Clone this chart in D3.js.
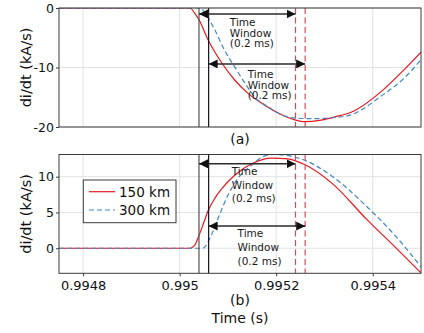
<!DOCTYPE html>
<html>
<head>
<meta charset="utf-8">
<script src="https://cdn.jsdelivr.net/npm/d3@7"></script>
<style>
  body { margin: 0; background: #fff; }
  svg { display: block; font-family: "DejaVu Sans", Verdana, sans-serif; }
</style>
</head>
<body>
<div id="chart"></div>
<script>
// --- data ---
const seriesNames = ["150 km", "300 km"]
const xTicks = [0.9948, 0.995, 0.9952, 0.9954]
const xTickLabels = ["0.9948", "0.995", "0.9952", "0.9954"]
const topYTicks = [-20, -10, 0]
const bottomYTicks = [0, 5, 10]

// time window start for each line length, window is 0.2 ms
const windowStarts = [0.99504, 0.99506]
const windowLength = 0.0002

// (a) di/dt, kA/s
const topTime150 = [0.99475, 0.995, 0.995021, 0.995031, 0.995041, 0.995058, 0.995087, 0.995114, 0.995141, 0.99517, 0.995203, 0.995239, 0.995259, 0.99529, 0.995322, 0.995361, 0.995421, 0.995461, 0.9955]
const topValue150 = [0, 0, 0, -0.85, -2.1, -5.2, -9.2, -12.1, -14.3, -16.0, -17.6, -18.8, -19.1, -18.9, -18.3, -17.3, -13.8, -10.7, -7.4]
const topTime300 = [0.99475, 0.995, 0.995044, 0.995052, 0.995073, 0.995093, 0.995114, 0.995135, 0.995156, 0.995183, 0.995212, 0.995239, 0.99528, 0.995322, 0.995353, 0.995421, 0.995461, 0.9955]
const topValue300 = [0, 0, 0, -0.8, -3.7, -7.1, -9.9, -12.6, -15.0, -16.6, -18.0, -18.5, -18.6, -18.4, -18.0, -14.6, -12.1, -8.7]

// (b) di/dt, kA/s
const bottomTime150 = [0.99475, 0.995, 0.995021, 0.995031, 0.995039, 0.99505, 0.995058, 0.995073, 0.995087, 0.995114, 0.995149, 0.995191, 0.995224, 0.995259, 0.995317, 0.995388, 0.995446, 0.9955]
const bottomValue150 = [0, 0, 0, 0.4, 1.6, 3.6, 5.1, 7.0, 8.3, 10.2, 11.8, 12.6, 12.5, 11.7, 9.0, 4.0, 0.2, -3.45]
const bottomTime300 = [0.99475, 0.995, 0.995048, 0.995062, 0.995079, 0.9951, 0.99512, 0.995149, 0.995176, 0.995197, 0.995228, 0.995259, 0.995317, 0.995388, 0.995446, 0.9955]
const bottomValue300 = [0, 0, 0, 1.3, 4.1, 7.4, 9.7, 11.6, 12.9, 13.1, 12.9, 12.3, 10.0, 5.8, 1.8, -2.6]

// arrow levels and label anchors (data units), one per window
const topArrowLevels = [-1.0, -9.4]
const bottomArrowLevels = [11.8, 3.1]
const topLabelAnchors = [[0.995104, -3.1], [0.995141, -11.8]]
const bottomLabelAnchors = [[0.995108, 10.3], [0.99512, 1.6]]
const windowLabel = ["Time", "Window", "(0.2 ms)"]

const width = 424
const height = 333
const red = "#e8191f"
const blue = "#3f86c8"
const colors = [red, blue]

const svg = d3.select("#chart").append("svg")
  .attr("width", width)
  .attr("height", height)

const defs = svg.append("defs")
defs.append("marker")
    .attr("id", "head")
    .attr("viewBox", "0 -5 10 10")
    .attr("refX", 10)
    .attr("refY", 0)
    .attr("markerUnits", "userSpaceOnUse")
    .attr("markerWidth", 9)
    .attr("markerHeight", 9)
    .attr("orient", "auto-start-reverse")
  .append("path")
    .attr("d", "M0,-5L10,0L0,5Z")
    .attr("fill", "#111")

const x = d3.scaleLinear().domain([0.99475, 0.9955]).range([59, 421])

const panels = [
  {
    id: "a", top: 8, bottom: 127, domain: [-20, 0], ticks: topYTicks,
    series: [[topTime150, topValue150], [topTime300, topValue300]],
    arrows: topArrowLevels, labels: topLabelAnchors, lineGap: "1.0em",
    caption: "(a)", captionY: 144
  },
  {
    id: "b", top: 154.5, bottom: 273.3, domain: [-3.5, 13.1], ticks: bottomYTicks,
    series: [[bottomTime150, bottomValue150], [bottomTime300, bottomValue300]],
    arrows: bottomArrowLevels, labels: bottomLabelAnchors, lineGap: "1.33em",
    caption: "(b)", captionY: 305
  }
]

panels.forEach(p => {
  const y = d3.scaleLinear().domain(p.domain).range([p.bottom, p.top])
  const g = svg.append("g")

  defs.append("clipPath").attr("id", "clip-" + p.id)
    .append("rect")
      .attr("x", x.range()[0]).attr("y", p.top)
      .attr("width", x.range()[1] - x.range()[0])
      .attr("height", p.bottom - p.top)

  // grid
  g.append("g").selectAll("line").data(xTicks).join("line")
      .attr("x1", d => x(d)).attr("x2", d => x(d))
      .attr("y1", p.top).attr("y2", p.bottom)
      .attr("stroke", "#e2e2e2")
  g.append("g").selectAll("line").data(p.ticks).join("line")
      .attr("x1", x.range()[0]).attr("x2", x.range()[1])
      .attr("y1", d => y(d)).attr("y2", d => y(d))
      .attr("stroke", "#e2e2e2")

  const plot = g.append("g").attr("clip-path", `url(#clip-${p.id})`)

  const line = d3.line()
      .x(d => x(d[0]))
      .y(d => y(d[1]))
      .curve(d3.curveMonotoneX)

  p.series.forEach((s, i) => {
    const pts = d3.zip(s[0], s[1])
    plot.append("path")
        .datum(pts)
        .attr("fill", "none")
        .attr("stroke", colors[i])
        .attr("stroke-width", 1.2)
        .attr("stroke-dasharray", i === 1 ? "5,3" : null)
        .attr("d", line)
  })

  // window start lines
  plot.selectAll("line.start").data(windowStarts).join("line")
      .attr("class", "start")
      .attr("x1", d => x(d)).attr("x2", d => x(d))
      .attr("y1", p.top).attr("y2", p.bottom)
      .attr("stroke", (d, i) => i === 0 ? "#505050" : "#15151f")
      .attr("stroke-width", 1.2)

  // window end lines
  plot.selectAll("line.end").data(windowStarts).join("line")
      .attr("class", "end")
      .attr("x1", d => x(d + windowLength)).attr("x2", d => x(d + windowLength))
      .attr("y1", p.top).attr("y2", p.bottom)
      .attr("stroke", "#c8505c")
      .attr("stroke-width", 1.2)
      .attr("stroke-dasharray", "6,3.5")

  // arrows
  g.selectAll("line.arrow").data(windowStarts).join("line")
      .attr("class", "arrow")
      .attr("x1", d => x(d)).attr("x2", d => x(d + windowLength))
      .attr("y1", (d, i) => y(p.arrows[i])).attr("y2", (d, i) => y(p.arrows[i]))
      .attr("stroke", "#2a2a2a")
      .attr("stroke-width", 1.4)
      .attr("marker-start", "url(#head)")
      .attr("marker-end", "url(#head)")

  // window labels
  g.selectAll("text.win").data(p.labels).join("text")
      .attr("class", "win")
      .attr("x", d => x(d[0]))
      .attr("y", d => y(d[1]))
      .attr("font-size", 10.5)
      .attr("fill", "#1a1a1a")
      .each(function(d) {
        const t = d3.select(this)
        windowLabel.forEach((w, k) => {
          t.append("tspan")
            .attr("x", x(d[0]))
            .attr("dy", k === 0 ? 0 : p.lineGap)
            .text(w)
        })
      })

  // frame
  g.append("rect")
      .attr("x", x.range()[0]).attr("y", p.top)
      .attr("width", x.range()[1] - x.range()[0])
      .attr("height", p.bottom - p.top)
      .attr("fill", "none")
      .attr("stroke", "#3a3a3a")

  // y axis
  const yAxis = g.append("g")
      .attr("transform", `translate(${x.range()[0]},0)`)
      .call(d3.axisLeft(y).tickValues(p.ticks).tickSize(3).tickPadding(2).tickFormat(d3.format("d")))
  yAxis.select(".domain").remove()
  yAxis.selectAll("line").attr("stroke", "#3a3a3a")
  yAxis.selectAll("text")
      .attr("font-size", 12.5)
      .attr("fill", "#111")
      .attr("font-family", "DejaVu Sans, sans-serif")
      .text(d => String(d).replace("−", "-"))

  svg.append("text")
      .attr("transform", `translate(31,${(p.top + p.bottom) / 2}) rotate(-90)`)
      .attr("text-anchor", "middle")
      .attr("font-size", 14.5)
      .attr("fill", "#111")
      .text("di/dt (kA/s)")

  svg.append("text")
      .attr("x", (x.range()[0] + x.range()[1]) / 2)
      .attr("y", p.captionY)
      .attr("text-anchor", "middle")
      .attr("font-size", 14)
      .attr("fill", "#111")
      .text(p.caption)

  if (p.id === "b") {
    const xAxis = g.append("g")
        .attr("transform", `translate(0,${p.bottom})`)
        .call(d3.axisBottom(x).tickValues(xTicks).tickSize(3).tickPadding(4)
          .tickFormat((d, i) => xTickLabels[i]))
    xAxis.select(".domain").remove()
    xAxis.selectAll("line").attr("stroke", "#3a3a3a")
    xAxis.selectAll("text")
        .attr("font-size", 13)
        .attr("fill", "#111")
        .attr("font-family", "DejaVu Sans, sans-serif")

    // legend
    const lg = g.append("g")
    lg.append("rect")
        .attr("x", 83.3).attr("y", 180)
        .attr("width", 92.7).attr("height", 42.7)
        .attr("fill", "#fff")
        .attr("stroke", "#3a3a3a")
    seriesNames.forEach((name, i) => {
      const ly = 191.7 + i * 18.3
      lg.append("line")
          .attr("x1", 89).attr("x2", 115)
          .attr("y1", ly).attr("y2", ly)
          .attr("stroke", colors[i])
          .attr("stroke-width", 1.2)
          .attr("stroke-dasharray", i === 1 ? "5,3" : null)
      lg.append("text")
          .attr("x", 119).attr("y", ly)
          .attr("dy", "0.36em")
          .attr("font-size", 13.5)
          .attr("fill", "#111")
          .text(name)
    })
  }
})

svg.append("text")
    .attr("x", 240)
    .attr("y", 323)
    .attr("text-anchor", "middle")
    .attr("font-size", 14)
    .attr("fill", "#111")
    .text("Time (s)")
</script>
</body>
</html>
